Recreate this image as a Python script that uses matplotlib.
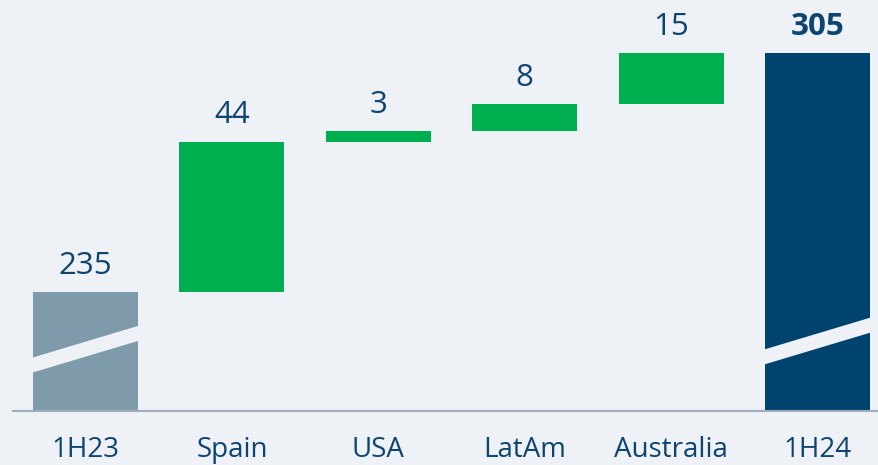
import matplotlib
matplotlib.use('Agg')
import matplotlib.pyplot as plt
from matplotlib.patches import Polygon

plt.rcParams['font.family'] = ['Open Sans', 'DejaVu Sans']

categories = ['1H23', 'Spain', 'USA', 'LatAm', 'Australia', '1H24']
start_total = 235
deltas = [44, 3, 8, 15]
end_total = 305
axis_floor = 200  # truncated axis starts here

BG = '#eef1f6'
GREY = '#7f9bab'
GREEN = '#00b050'
NAVY = '#00436e'
TEXT = '#0e4470'
LINE = '#9fadbf'

fig = plt.figure(figsize=(8.79, 4.65), dpi=100, facecolor=BG)
ax = fig.add_axes([0, 0, 1, 1])
ax.set_facecolor(BG)
ax.set_xlim(-0.584, 5.42)
ax.set_ylim(184.2, 320.5)
ax.axis('off')

width = 0.717

# totals
ax.bar(0, start_total - axis_floor, bottom=axis_floor, width=width, color=GREY, zorder=2)
ax.bar(5, end_total - axis_floor, bottom=axis_floor, width=width, color=NAVY, zorder=2)

# increments
base = start_total
for i, d in enumerate(deltas, start=1):
    ax.bar(i, d, bottom=base, width=width, color=GREEN, zorder=2)
    base += d

# axis break stripes on the total bars
for x, y0 in [(0, 211.2), (5, 213.6)]:
    l, r = x - width / 2 - 0.01, x + width / 2 + 0.01
    stripe = Polygon([(l, y0), (r, y0 + 9.5), (r, y0 + 9.5 + 4.4), (l, y0 + 4.4)],
                     closed=True, facecolor=BG, edgecolor='none', zorder=3)
    ax.add_patch(stripe)

# baseline
ax.plot([-0.502, 5.42], [axis_floor, axis_floor], color=LINE, lw=1.5, zorder=4,
        solid_capstyle='butt')

# value labels
tops = [start_total]
base = start_total
for d in deltas:
    base += d
    tops.append(base)
tops.append(end_total)
labels = [str(start_total)] + [str(d) for d in deltas] + [str(end_total)]
for i, (t, lab) in enumerate(zip(tops, labels)):
    ax.annotate(lab, (i, t), xytext=(0, 8), textcoords='offset points',
                ha='center', va='bottom', fontsize=22.5, color=TEXT,
                fontweight='bold' if i == 5 else 'normal')

# category labels
for i, c in enumerate(categories):
    ax.text(i, 188.6, c, ha='center', va='center', fontsize=20, color=TEXT)

fig.savefig('out.png', dpi=100, facecolor=BG)
